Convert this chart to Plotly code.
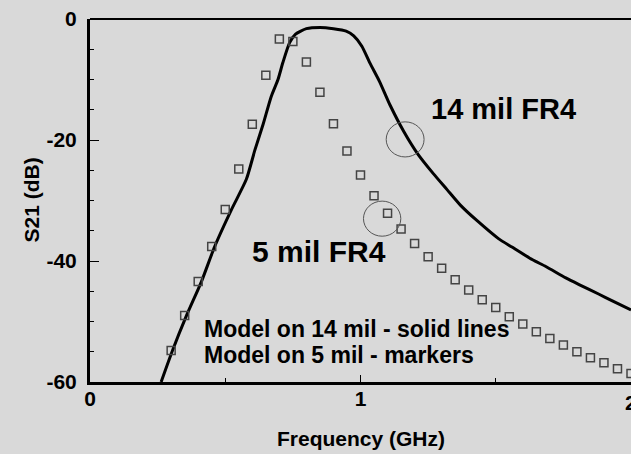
import plotly.graph_objects as go

# Solid line: model on 14 mil FR4
curve_freq = [0.263, 0.305, 0.357, 0.412, 0.461, 0.523, 0.578, 0.61, 0.64, 0.67, 0.695,
              0.713, 0.738, 0.76, 0.80, 0.85, 0.90, 0.947, 0.975, 1.005, 1.035, 1.07,
              1.11, 1.16, 1.21, 1.27, 1.32, 1.37, 1.43, 1.51, 1.56, 1.636, 1.685, 1.759,
              1.808, 1.882, 1.931, 2.0]
curve_s21 = [-60.0, -54.8, -49.0, -43.4, -37.6, -31.5, -26.5, -21.6, -17.4, -12.8, -10.0,
             -7.2, -3.9, -2.5, -1.6, -1.4, -1.6, -2.0, -2.8, -4.5, -7.3, -10.3,
             -14.3, -18.6, -22.2, -25.6, -28.2, -30.8, -33.3, -36.3, -37.7, -39.8, -40.9, -42.8,
             -43.9, -45.5, -46.6, -48.1]

# Markers: model on 5 mil FR4
marker_freq = [0.30, 0.35, 0.40, 0.45, 0.50, 0.55, 0.60, 0.65, 0.70, 0.75, 0.80, 0.85,
               0.90, 0.95, 1.00, 1.05, 1.10, 1.15, 1.20, 1.25, 1.30, 1.35, 1.40, 1.45,
               1.50, 1.55, 1.60, 1.65, 1.70, 1.75, 1.80, 1.85, 1.90, 1.95, 2.00]
marker_s21 = [-54.8, -49.0, -43.4, -37.6, -31.5, -24.8, -17.4, -9.3, -3.3, -3.7, -7.1, -12.1,
              -17.3, -21.8, -25.8, -29.2, -32.1, -34.7, -37.1, -39.3, -41.2, -43.1, -44.8, -46.4,
              -47.7, -49.2, -50.4, -51.7, -52.8, -53.9, -55.0, -56.0, -56.8, -57.8, -58.6]

# Highlight circles (center freq, center dB, radius freq, radius dB)
circle_cx = [1.165, 1.080]
circle_cy = [-19.9, -33.0]
circle_rx = [0.070, 0.069]
circle_ry = [2.9, 2.9]

x_tickvals = [0, 1]
x_ticktext = ["0", "1"]
x_edge_label = "2"
y_tickvals = [0, -20, -40, -60]
y_ticktext = ["0", "-20", "-40", "-60"]

label_14 = "14 mil FR4"
label_5 = "5 mil FR4"
note_lines = ["Model on 14 mil - solid lines", "Model on 5 mil - markers"]

FONT = "Liberation Sans, Arial, sans-serif"
BG = "#d9d9d9"

fig = go.Figure()
fig.add_trace(go.Scatter(x=curve_freq, y=curve_s21, mode="lines", line=dict(color="black", width=3, shape="spline", smoothing=0.6),
                         showlegend=False))
fig.add_trace(go.Scatter(x=marker_freq, y=marker_s21, mode="markers",
                         marker=dict(symbol="square-open", size=8, color="#444444", line=dict(width=1.5, color="#444444")),
                         showlegend=False))

shapes = []
for cx, cy, rx, ry in zip(circle_cx, circle_cy, circle_rx, circle_ry):
    shapes.append(dict(type="circle", xref="x", yref="y", x0=cx - rx, x1=cx + rx, y0=cy - ry, y1=cy + ry,
                       line=dict(color="#555555", width=1)))
shapes.append(dict(type="line", xref="paper", yref="paper", x0=0, x1=1, y0=1, y1=1, line=dict(color="black", width=2)))

def ann(x, y, text, size, xref="x", yref="y", xanchor="center", angle=0):
    return dict(x=x, y=y, xref=xref, yref=yref, text="<b>%s</b>" % text, showarrow=False,
                xanchor=xanchor, yanchor="middle", textangle=angle,
                font=dict(family=FONT, size=size, color="black"))

annotations = [
    ann(1.528, -14.8, label_14, 29),
    ann(0.845, -38.5, label_5, 30),
    ann(0.415, -51.2, note_lines[0], 23, xanchor="left"),
    ann(0.415, -55.6, note_lines[1], 23, xanchor="left"),
    ann(1.0, (382 - 438) / 363.0, "Frequency (GHz)", 21, yref="paper"),
    ann((31 - 90) / 541.0, 0.5, "S21 (dB)", 21, xref="paper", yref="paper", angle=-90),
    ann(2.0, (382 - 402) / 363.0, x_edge_label, 21, yref="paper"),
]

fig.update_layout(
    width=631, height=454,
    margin=dict(l=90, r=0, t=19, b=72),
    paper_bgcolor=BG, plot_bgcolor=BG,
    shapes=shapes, annotations=annotations,
    xaxis=dict(range=[0, 2], showgrid=False, zeroline=False, showline=True, linecolor="black", linewidth=3,
               ticks="inside", ticklen=7, tickwidth=1, tickcolor="black",
               tickvals=x_tickvals, ticktext=x_ticktext,
               minor=dict(tickvals=[0.5, 1.5], ticks="inside", ticklen=4, tickwidth=1, tickcolor="black"),
               tickfont=dict(family=FONT, size=21, color="black", weight="bold"), ticklabelstandoff=-4),
    yaxis=dict(range=[-60, 0], showgrid=False, zeroline=False, showline=True, linecolor="black", linewidth=3,
               ticks="inside", ticklen=9, tickwidth=1, tickcolor="black",
               tickvals=y_tickvals, ticktext=y_ticktext,
               minor=dict(dtick=5, ticks="inside", ticklen=4, tickwidth=1, tickcolor="black"),
               tickfont=dict(family=FONT, size=21, color="black", weight="bold"), ticklabelstandoff=6),
)

fig.write_html("out.html")
